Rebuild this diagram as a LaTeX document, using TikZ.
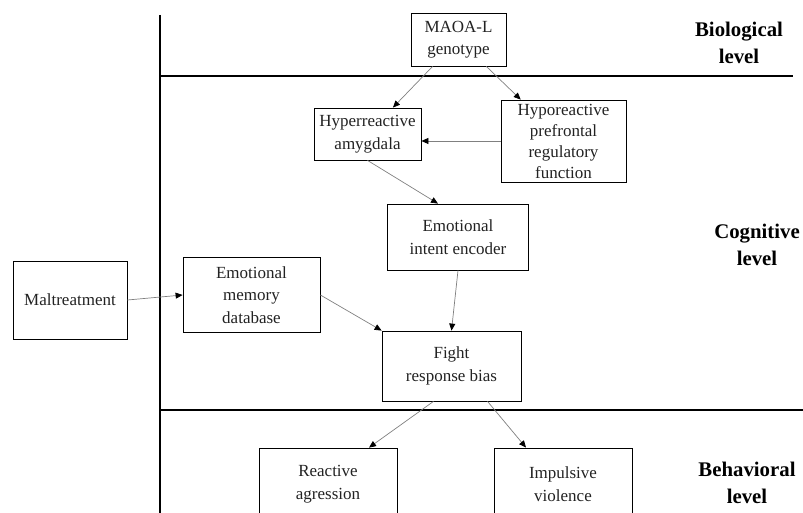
\documentclass[tikz,border=0pt]{standalone}
\usepackage{fontspec}
\setmainfont{Liberation Serif}
\usetikzlibrary{arrows.meta, positioning}
\definecolor{cLine}{HTML}{808080}
\definecolor{cText}{HTML}{222222}

\begin{document}
\begin{tikzpicture}[x=1pt, y=-1pt,
        box/.style = {draw=black, line width=0.8pt, align=center, inner sep=0pt, text=cText, font=\fontsize{17}{22.5}\selectfont},
        lvl/.style = {align=center, text=black, font=\fontsize{20.8}{27}\selectfont\bfseries},
        conn/.style = {draw=cLine, line width=0.7pt, -{Triangle[length=7pt, width=6pt, color=black]}},
        sep/.style = {draw=black, line width=1.6pt} ]
      \useasboundingbox (0,0) rectangle (803,513);
      \draw[sep] (160,15) -- (160,513);
      \draw[sep] (160,76) -- (793,76);
      \draw[sep] (160,410) -- (803,410);
      \node[box, minimum width=95pt, minimum height=53pt] (maoa) at (458.5,39.5) {MAOA-L\\genotype};
      \node[box, minimum width=107pt, minimum height=52pt] (hyper) at (367.5,134) {Hyperreactive\\amygdala};
      \node[box, minimum width=125pt, minimum height=82pt, font=\fontsize{17}{21}\selectfont] (hypo) at (563.5,141) {Hyporeactive\\prefrontal\\regulatory\\function};
      \node[box, minimum width=141pt, minimum height=66pt] (intent) at (458,237) {Emotional\\intent encoder};
      \node[box, minimum width=137pt, minimum height=75pt] (memory) at (251.5,295) {Emotional\\memory\\database};
      \node[box, minimum width=114pt, minimum height=78pt] (malt) at (70,300) {Maltreatment};
      \node[box, minimum width=139pt, minimum height=70pt] (fight) at (451.5,366) {Fight\\response bias};
      \node[box, minimum width=138pt, minimum height=72pt] (react) at (328,484) {Reactive\\agression};
      \node[box, minimum width=138pt, minimum height=72pt] (impulse) at (563,484) {Impulsive\\violence};
      \node[lvl] (bio) at (739,43) {Biological\\level};
      \node[lvl] (cog) at (757,245) {Cognitive\\level};
      \node[lvl] (beh) at (747,483) {Behavioral\\level};
      \draw[conn] (maoa) -- (hyper);
      \draw[conn] (maoa) -- (hypo);
      \draw[conn] (hypo.west) -- (hypo.west -| hyper.east);
      \draw[conn] (hyper.south) -- ([xshift=-20pt]intent.north);
      \draw[conn] (intent.south) -- (fight.north);
      \draw[conn] (malt.east) -- (memory.west);
      \draw[conn] (memory.east) -- (fight.north west);
      \draw[conn] ([xshift=-18pt]fight.south) -- ([xshift=41pt]react.north);
      \draw[conn] ([xshift=36pt]fight.south) -- ([xshift=-37pt]impulse.north);
    \end{tikzpicture}
\end{document}
